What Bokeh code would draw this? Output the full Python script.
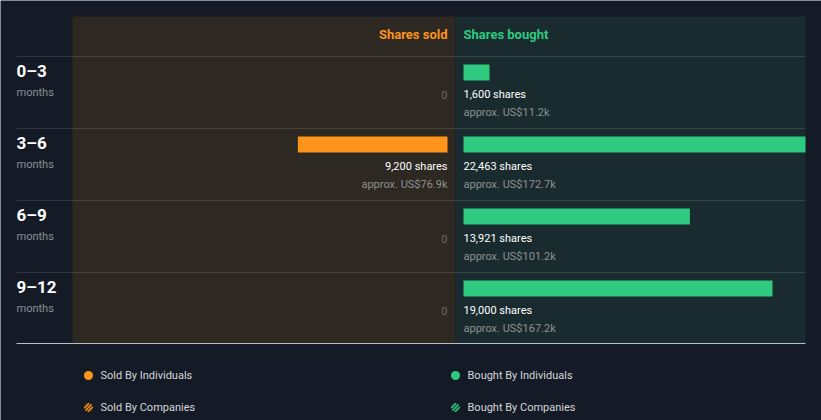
import math
from bokeh.plotting import figure
from bokeh.models import Range1d
from bokeh.embed import file_html
from bokeh.resources import INLINE
from bokeh.core.properties import value

# ---- data ----
periods = ["0–3", "3–6", "6–9", "9–12"]
period_unit = ["months", "months", "months", "months"]
sold_shares = [0, 9200, 0, 0]
sold_value = ["", "approx. US$76.9k", "", ""]
bought_shares = [1600, 22463, 13921, 19000]
bought_value = ["approx. US$11.2k", "approx. US$172.7k", "approx. US$101.2k", "approx. US$167.2k"]
header_sold = "Shares sold"
header_bought = "Shares bought"
legend_labels = ["Sold By Individuals", "Sold By Companies", "Bought By Individuals", "Bought By Companies"]

# ---- style ----
W, H = 821, 420
BG = "#151b26"
SOLD_BG = "#2d2822"
BOUGHT_BG = "#192b2e"
ORANGE = "#fe951a"
GREEN = "#2dca7f"
FONT = value("Roboto")

PX = 19000 / 309.0          # shares per pixel
MID = 455                    # pixel of the divider
GAP = 8 * PX
def X(px):
    return (px - MID) * PX

p = figure(width=W, height=H, x_range=Range1d(X(0), X(W)), y_range=Range1d(H, 0),
           output_backend="svg", toolbar_location=None, min_border=0,
           x_axis_location=None, y_axis_location=None,
           background_fill_color=BG, border_fill_color=BG, outline_line_color=None)
p.grid.visible = False

TOP, HEAD, ROW, BOTTOM = 16, 56, 72, 343
PANEL_R = X(805)

p.quad(left=X(72), right=0, top=TOP, bottom=BOTTOM, fill_color=SOLD_BG, line_color=None)
p.quad(left=0, right=PANEL_R, top=TOP, bottom=BOTTOM, fill_color=BOUGHT_BG, line_color=None)

# headers
p.text(x=[-GAP], y=[TOP + 18], text=[header_sold], text_color=ORANGE, text_font=FONT,
       text_font_size="13px", text_font_style="bold", text_align="right", text_baseline="middle")
p.text(x=[GAP], y=[TOP + 18], text=[header_bought], text_color=GREEN, text_font=FONT,
       text_font_size="13px", text_font_style="bold", text_align="left", text_baseline="middle")

# row separators
seps = [HEAD + i * ROW for i in range(len(periods))]
p.segment(x0=[X(16)] * len(seps), x1=[PANEL_R] * len(seps), y0=seps, y1=seps,
          line_color="#ffffff", line_alpha=0.12, line_width=1)
p.segment(x0=[X(16)], x1=[PANEL_R], y0=[BOTTOM], y1=[BOTTOM], line_color="#b9bec5", line_width=1)

for i, per in enumerate(periods):
    rt = HEAD + i * ROW
    p.text(x=[X(16)], y=[rt + 14], text=[per], text_color="#ffffff", text_font=FONT,
           text_font_size="17px", text_font_style="bold", text_baseline="middle")
    p.text(x=[X(16)], y=[rt + 36], text=[period_unit[i]], text_color="#8b9097", text_font=FONT,
           text_font_size="11px", text_baseline="middle")
    s = sold_shares[i]
    if s > 0:
        p.quad(left=-GAP - s, right=-GAP, top=rt + 8, bottom=rt + 24, fill_color=ORANGE, line_color=None)
        p.text(x=[-GAP], y=[rt + 38], text=[f"{s:,} shares"], text_color="#ffffff", text_font=FONT,
               text_font_size="11px", text_align="right", text_baseline="middle")
        p.text(x=[-GAP], y=[rt + 56], text=[sold_value[i]], text_color="#8d9092", text_font=FONT,
               text_font_size="11px", text_align="right", text_baseline="middle")
    else:
        p.text(x=[-GAP], y=[rt + 38], text=["0"], text_color="#6a6a6a", text_font=FONT,
               text_font_size="11px", text_align="right", text_baseline="middle")
    b = bought_shares[i]
    p.quad(left=GAP, right=min(GAP + b, PANEL_R), top=rt + 8, bottom=rt + 24, fill_color=GREEN, line_color=None)
    p.text(x=[GAP], y=[rt + 38], text=[f"{b:,} shares"], text_color="#ffffff", text_font=FONT,
           text_font_size="11px", text_align="left", text_baseline="middle")
    p.text(x=[GAP], y=[rt + 56], text=[bought_value[i]], text_color="#8d9092", text_font=FONT,
           text_font_size="11px", text_align="left", text_baseline="middle")

# legend
R = 4.5
LEG = [(88, 375, ORANGE, False), (88, 407, ORANGE, True), (455, 375, GREEN, False), (455, 407, GREEN, True)]
for (cx, cy, col, hatched), lab in zip(LEG, legend_labels):
    if hatched:
        p.scatter(x=[X(cx)], y=[cy], size=2 * R, marker="circle",
                  fill_color="#4a3518" if col == ORANGE else "#17432f", line_color=None)
        x0s, x1s, y0s, y1s = [], [], [], []
        for d in (-2.6, 0.0, 2.6):
            L = math.sqrt(max(R * R - d * d, 0)) - 0.3
            ccx, ccy = cx + d / math.sqrt(2), cy + d / math.sqrt(2)
            x0s.append(X(ccx - L / math.sqrt(2))); y0s.append(ccy + L / math.sqrt(2))
            x1s.append(X(ccx + L / math.sqrt(2))); y1s.append(ccy - L / math.sqrt(2))
        p.segment(x0=x0s, y0=y0s, x1=x1s, y1=y1s, line_color=col, line_width=1.3)
    else:
        p.scatter(x=[X(cx)], y=[cy], size=2 * R, marker="circle", fill_color=col, line_color=None)
    p.text(x=[X(cx + 12)], y=[cy], text=[lab], text_color="#d3d6da", text_font=FONT,
           text_font_size="11px", text_baseline="middle")

open("out.html", "w").write(file_html(p, INLINE))
